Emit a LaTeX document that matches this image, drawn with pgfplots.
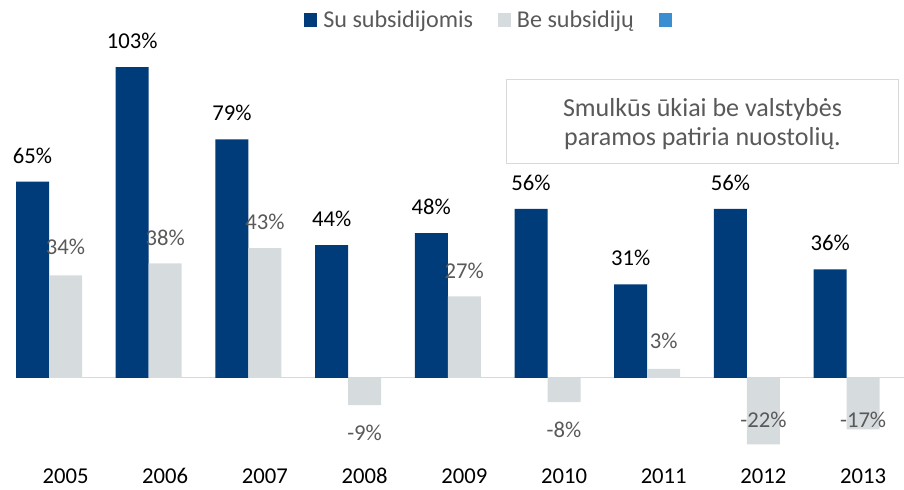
\documentclass[border=0pt]{standalone}
\usepackage{fontspec}
\setmainfont{Carlito}
\usepackage{pgfplots}
\usepackage{pgfplotstable}
\pgfplotsset{compat=1.18}
\definecolor{navy}{RGB}{0,59,122}
\definecolor{lightgrey}{RGB}{214,220,222}
\definecolor{midblue}{RGB}{59,143,208}
\definecolor{labgrey}{RGB}{89,89,89}
\definecolor{rulegrey}{RGB}{217,217,217}
\newcommand\lbl{\fontsize{17pt}{20pt}\selectfont}

% x: 0..8 = 2005..2013, s = label shift (pt)
\pgfplotstableread{
x y s
0 65 13.9
1 103 13.9
2 79 13.9
3 44 13.9
4 48 13.9
5 56 13.9
6 31 13.9
7 56 13.9
8 36 13.9
}\withsub
\pgfplotstableread{
x y s
0 34 15.75
1 38 13.3
2 43 14.25
3 -9 -26.25
4 27 13.5
5 -8 -26.25
6 3 15
7 -22 12.3
8 -17 1.0
}\withoutsub

\begin{document}
\begin{tikzpicture}
\begin{axis}[
  scale only axis,
  width=678pt, height=367.5pt,
  xmin=-0.657, xmax=8.410,
  ymin=-37.1, ymax=125.2,
  axis line style={draw=none},
  major tick length=0pt,
  ytick=\empty,
  xtick={0,...,8},
  xticklabels={2005,2006,2007,2008,2009,2010,2011,2012,2013},
  xticklabel style={font=\lbl, anchor=base, inner sep=0pt, yshift=4.5pt},
  /pgf/number format/assume math mode=true,
  clip=false,
  bar width=0.331,
  legend columns=-1,
  legend style={at={(0.3363,0.9592)}, anchor=west, draw=none, fill=none,
    inner sep=0pt, font=\fontsize{18.1pt}{20pt}\selectfont, text=labgrey,
    nodes={inner sep=0pt},
    /tikz/every odd column/.append style={column sep=4.5pt},
    /tikz/every even column/.append style={column sep=18.5pt}},
  legend image code/.code={\fill[#1] (0pt,-4.9pt) rectangle (9.8pt,4.9pt);},
]
\draw[rulegrey, line width=0.75pt] (axis cs:-0.496,0) -- (axis cs:8.41,0);
\addplot[ybar, bar shift=-0.331, fill=navy, draw=none,
  nodes near coords={\pgfmathprintnumber{\pgfplotspointmeta}\%},
  nodes near coords style={font=\lbl, text=black, anchor=base, inner sep=0pt,
    xshift=-24.75pt, yshift=13.9pt}]
  table[x=x, y=y] {\withsub};
\addlegendentry{Su subsidijomis}
\addplot[ybar, bar shift=0, fill=lightgrey, draw=none,
  visualization depends on={\thisrow{s} \as \lblshift},
  nodes near coords={\pgfmathprintnumber{\pgfplotspointmeta}\%},
  nodes near coords style={font=\lbl, text=labgrey, anchor=base, inner sep=0pt, yshift=\lblshift pt}]
  table[x=x, y=y] {\withoutsub};
\addlegendentry{Be subsidijų}
\addlegendimage{fill=midblue, draw=none}
\addlegendentry{}
\draw[rulegrey, line width=0.75pt, fill=white] (axis cs:4.428,71.2) rectangle (axis cs:8.350,99.0);
\node[font=\fontsize{19.5pt}{22pt}\selectfont, text=labgrey, anchor=base, inner sep=0pt] at (axis cs:6.389,86.5) {Smulkūs ūkiai be valstybės};
\node[font=\fontsize{19.5pt}{22pt}\selectfont, text=labgrey, anchor=base, inner sep=0pt] at (axis cs:6.389,77.0) {paramos patiria nuostolių.};
\coordinate (bl) at (rel axis cs:0,0);
\coordinate (tr) at (rel axis cs:1,1);
\end{axis}
\pgfresetboundingbox
\useasboundingbox (bl) rectangle (tr);
\end{tikzpicture}
\end{document}
